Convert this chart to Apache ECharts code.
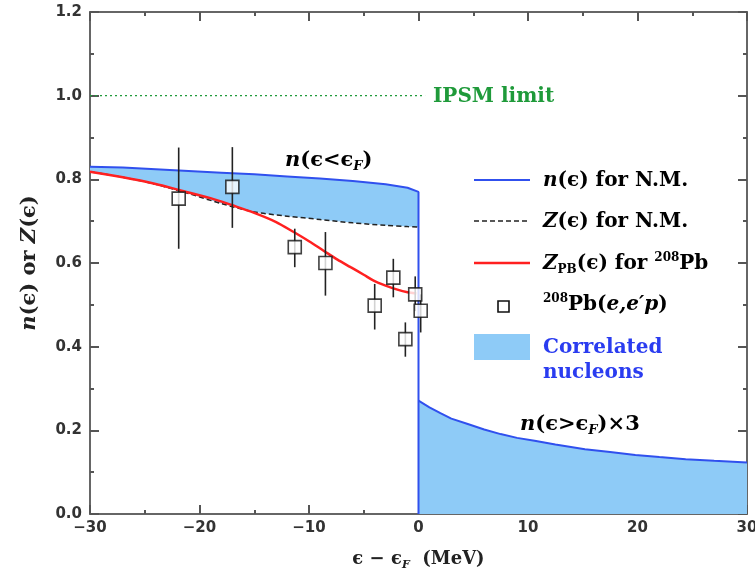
<!DOCTYPE html>
<html><head><meta charset="utf-8">
<script src="https://cdn.jsdelivr.net/npm/echarts@6/dist/echarts.min.js"></script>
<style>html,body{margin:0;padding:0;background:#fff}#c{width:755px;height:575px}</style>
</head><body><div id="c"></div>
<script>
// n(eps) for nuclear matter below the Fermi energy
const belowX = [-30,-27,-24,-21,-18,-15,-12,-9,-6,-3,-1,0];
const nBelow = [0.830,0.828,0.824,0.820,0.816,0.812,0.807,0.802,0.796,0.788,0.780,0.770];
// Z(eps) for nuclear matter (dashed)
const zNM    = [0.818,0.805,0.788,0.766,0.742,0.722,0.712,0.704,0.696,0.690,0.687,0.686];
// n(eps > eps_F) x 3
const aboveX = [0,1,2,3,4.5,6,7.5,9,10.6,12.5,15.2,17.5,19.8,22,24.4,27,30];
const nAbove = [0.271,0.255,0.241,0.228,0.215,0.202,0.191,0.182,0.175,0.166,0.155,0.148,0.141,0.136,0.131,0.127,0.123];
// Z_PB(eps) for 208Pb (red)
const zPBx = [-30,-27,-24,-21.8,-19,-17,-15,-13,-11.4,-10,-8.7,-7.4,-6.2,-5,-4.1,-3,-2,-1,-0.2];
const zPB  = [0.818,0.805,0.789,0.774,0.755,0.738,0.720,0.698,0.674,0.652,0.630,0.608,0.590,0.572,0.558,0.546,0.537,0.530,0.527];
// 208Pb(e,e'p) data
const expX  = [-21.9,-17.0,-11.3,-8.5,-4.0,-2.3,-1.2,-0.3,0.2];
const expY  = [0.754,0.782,0.638,0.600,0.498,0.565,0.418,0.525,0.486];
const expLo = [0.634,0.684,0.590,0.522,0.441,0.518,0.376,0.485,0.434];
const expHi = [0.876,0.877,0.682,0.674,0.550,0.610,0.458,0.568,0.525];
// IPSM limit
const ipsmX = [-30,0.6];
const ipsmY = [1.0,1.0];
const xTicks = [-30,-20,-10,0,10,20,30];
const yTicks = [0.0,0.2,0.4,0.6,0.8,1.0,1.2];

const BLUE='#3050ee', TXTBLUE='#2a3cf0', FILL='#8ecbf7', RED='#ff2020', GREEN='#1f9a3a';
const SERIF='DejaVu Serif';
const FS=20;
const rich = (c,fs)=>{ fs=fs||FS; return {
  r:{fontFamily:SERIF,fontSize:fs,fontWeight:'bold',color:c},
  i:{fontFamily:SERIF,fontSize:fs,fontStyle:'italic',fontWeight:'bold',color:c},
  sub:{fontFamily:SERIF,fontSize:Math.round(fs*0.62),fontStyle:'italic',fontWeight:'bold',color:c,verticalAlign:'bottom',padding:[12,0,0,0]},
  subr:{fontFamily:SERIF,fontSize:Math.round(fs*0.62),fontWeight:'bold',color:c,verticalAlign:'bottom',padding:[12,0,0,0]},
  sup:{fontFamily:SERIF,fontSize:Math.round(fs*0.62),fontWeight:'bold',color:c,verticalAlign:'top',padding:[0,0,12,0]}
};};

const chart = echarts.init(document.getElementById('c'));
const zip=(a,b)=>a.map((v,i)=>[v,b[i]]);
const axisFont={fontFamily:'DejaVu Sans',fontWeight:'bold',fontSize:15,color:'#333'};
const lineStyleAx={color:'#666',width:2};
const tickCfg={inside:true,length:9,lineStyle:{color:'#555',width:2}};
const minorCfg={show:true,splitNumber:2,length:4,lineStyle:{color:'#555',width:2}};

const option={
  animation:false,
  grid:{left:90,right:8,top:12,bottom:61,outerBoundsMode:'none',containLabel:false},
  xAxis:[{
    type:'value',min:-30,max:30,interval:10,position:'bottom',
    axisLine:{onZero:false,lineStyle:lineStyleAx},
    axisTick:tickCfg,minorTick:minorCfg,splitLine:{show:false},
    axisLabel:Object.assign({margin:7,formatter:v=>v<0?'\u2212'+Math.abs(v):String(v)},axisFont),
    name:'{r|ϵ − ϵ}{sub|F}{r|  (MeV)}',nameLocation:'middle',nameGap:34,
    nameTextStyle:{rich:rich('#222',18)}
  },{
    type:'value',min:-30,max:30,interval:10,position:'top',
    axisLine:{onZero:false,lineStyle:lineStyleAx},
    axisTick:tickCfg,minorTick:minorCfg,splitLine:{show:false},axisLabel:{show:false}
  }],
  yAxis:[{
    type:'value',min:0,max:1.2,interval:0.2,position:'left',
    axisLine:{onZero:false,lineStyle:lineStyleAx},
    axisTick:tickCfg,minorTick:minorCfg,splitLine:{show:false},
    axisLabel:Object.assign({margin:8,formatter:v=>v.toFixed(1)},axisFont),
    name:'{i|n}{r|(ϵ) or }{i|Z}{r|(ϵ)}',nameLocation:'middle',nameGap:50,nameRotate:90,
    nameTextStyle:{rich:rich('#222',21)}
  },{
    type:'value',min:0,max:1.2,interval:0.2,position:'right',
    axisLine:{onZero:false,lineStyle:lineStyleAx},
    axisTick:tickCfg,minorTick:minorCfg,splitLine:{show:false},axisLabel:{show:false}
  }],
  series:[
    {type:'custom',name:'Correlated nucleons',silent:true,z:1,data:[[0,0]],
     renderItem:(p,api)=>{
       const pts=[];
       for(let i=0;i<belowX.length;i++) pts.push(api.coord([belowX[i],nBelow[i]]));
       for(let i=belowX.length-1;i>=0;i--) pts.push(api.coord([belowX[i],zNM[i]]));
       return {type:'polygon',shape:{points:pts},style:{fill:FILL}};
     }},
    {type:'line',name:'n above',data:zip(aboveX,nAbove),showSymbol:false,symbol:'none',z:2,
     lineStyle:{color:BLUE,width:2},areaStyle:{color:FILL,opacity:1,origin:'start'}},
    {type:'line',name:'n(ϵ) for N.M.',data:zip(belowX,nBelow).concat([[0,0]]),symbol:'none',z:3,
     lineStyle:{color:BLUE,width:2}},
    {type:'line',name:'Z(ϵ) for N.M.',data:zip(belowX,zNM),symbol:'none',z:3,smooth:0.3,
     lineStyle:{color:'#222',width:1.5,type:[5,3]}},
    {type:'line',name:'Z_PB',data:zip(zPBx,zPB),symbol:'none',z:4,smooth:0.3,
     lineStyle:{color:RED,width:2.5}},
    {type:'line',name:'IPSM',data:zip(ipsmX,ipsmY),symbol:'none',z:3,
     lineStyle:{color:GREEN,width:1.2,type:[2,3]}},
    {type:'custom',name:'errors',z:5,silent:true,
     data:expX.map((x,i)=>[x,expLo[i],expHi[i]]),encode:{x:0,y:[1,2]},
     renderItem:(p,api)=>{
       const a=api.coord([api.value(0),api.value(1)]), b=api.coord([api.value(0),api.value(2)]);
       return {type:'line',shape:{x1:a[0],y1:a[1],x2:b[0],y2:b[1]},style:{stroke:'#222',lineWidth:1.6}};
     }},
    {type:'scatter',name:'208Pb(e,e\'p)',data:zip(expX,expY),symbol:'rect',symbolSize:13,z:6,
     itemStyle:{color:'#fff',borderColor:'#111',borderWidth:1.6}}
  ],
  graphic:[
    // annotations
    {type:'text',x:433,y:97,style:{text:'IPSM limit',font:'bold 20px "DejaVu Serif"',fill:GREEN,verticalAlign:'middle'}},
    {type:'text',x:285,y:161,style:{text:'{i|n}{r|(ϵ<ϵ}{sub|F}{r|)}',rich:rich(TXTBLUE,21),verticalAlign:'middle'}},
    {type:'text',x:520,y:425,style:{text:'{i|n}{r|(ϵ>ϵ}{sub|F}{r|)×3}',rich:rich(TXTBLUE,21),verticalAlign:'middle'}},
    // legend
    {type:'line',shape:{x1:474,y1:180,x2:530,y2:180},style:{stroke:BLUE,lineWidth:2}},
    {type:'text',x:543,y:181,style:{text:'{i|n}{r|(ϵ) for N.M.}',rich:rich(TXTBLUE),verticalAlign:'middle'}},
    {type:'line',shape:{x1:474,y1:221,x2:530,y2:221},style:{stroke:'#222',lineWidth:1.5,lineDash:[5,3]}},
    {type:'text',x:543,y:222,style:{text:'{i|Z}{r|(ϵ) for N.M.}',rich:rich('#222'),verticalAlign:'middle'}},
    {type:'line',shape:{x1:474,y1:263,x2:530,y2:263},style:{stroke:RED,lineWidth:2.5}},
    {type:'text',x:543,y:264,style:{text:'{i|Z}{subr|PB}{r|(ϵ) for }{sup|208}{r|Pb}',rich:rich(RED),verticalAlign:'middle'}},
    {type:'rect',shape:{x:498,y:301,width:11,height:11},style:{fill:'#fff',stroke:'#111',lineWidth:1.6}},
    {type:'text',x:543,y:305,style:{text:'{sup|208}{r|Pb(}{i|e,e′p}{r|)}',rich:rich('#222'),verticalAlign:'middle'}},
    {type:'rect',shape:{x:474,y:334,width:56,height:26},style:{fill:FILL}},
    {type:'text',x:543,y:360,style:{text:'Correlated\nnucleons',font:'bold 20px "DejaVu Serif"',fill:TXTBLUE,lineHeight:25,verticalAlign:'middle'}}
  ]
};
chart.setOption(option);
</script></body></html>
